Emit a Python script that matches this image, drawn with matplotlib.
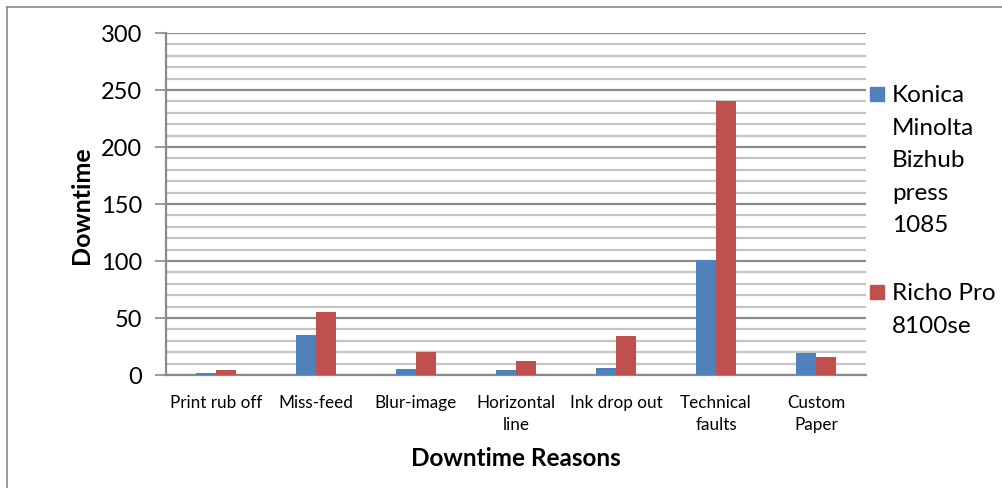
import numpy as np
import matplotlib; matplotlib.use("Agg")
import matplotlib.pyplot as plt
from matplotlib.patches import Rectangle
from matplotlib.lines import Line2D

plt.rcParams["font.family"] = ["Lato", "DejaVu Sans"]

reasons = ["Print rub off", "Miss-feed", "Blur-image", "Horizontal\nline",
           "Ink drop out", "Technical\nfaults", "Custom\nPaper"]
konica = [2, 35, 5, 4, 6, 101, 19]
richo = [4, 55, 20, 12, 34, 240, 16]
series_names = ["Konica\nMinolta\nBizhub\npress\n1085", "Richo Pro\n8100se"]
colors = ["#4F81BD", "#C0504D"]

fig = plt.figure(figsize=(10.03, 4.89), dpi=100)
ax = fig.add_axes([166 / 1003, 1 - 376 / 489, 700 / 1003, 342 / 489])

x = np.arange(len(reasons))
w = 0.2
b1 = ax.bar(x - w / 2, konica, w, color=colors[0], zorder=3)
b2 = ax.bar(x + w / 2, richo, w, color=colors[1], zorder=3)

ax.set_xlim(-0.5, len(reasons) - 0.5)
ax.set_ylim(0, 300)
ax.set_yticks(np.arange(0, 301, 50))
ax.set_yticks(np.arange(0, 301, 10), minor=True)
ax.grid(axis="y", which="minor", color="#c4c4c4", lw=1.6, zorder=0)
ax.grid(axis="y", which="major", color="#8a8a8a", lw=1.6, zorder=1)
ax.set_xticks(x)
ax.set_xticklabels(reasons, fontsize=12.3, linespacing=1.45)
ax.tick_params(axis="x", length=0, pad=14)
ax.tick_params(axis="y", which="major", length=8, color="#8a8a8a", width=1.2,
               labelsize=17, pad=9)
ax.tick_params(axis="y", which="minor", length=0)
for s in ["top", "right"]:
    ax.spines[s].set_visible(False)
for s in ["left", "bottom"]:
    ax.spines[s].set_color("#8a8a8a")
    ax.spines[s].set_linewidth(1.6)

ax.set_ylabel("Downtime", fontsize=18, fontweight="bold", labelpad=6)
ax.set_xlabel("Downtime Reasons", fontsize=17.5, fontweight="bold", labelpad=10)

# legend drawn by hand, square aligned with first text line
for cont, name, y0 in [(b1, series_names[0], 95), (b2, series_names[1], 293)]:
    fig.patches.append(Rectangle((870 / 1003, 1 - (y0 + 7) / 489), 14 / 1003, 14 / 489,
                                 transform=fig.transFigure,
                                 color=cont.patches[0].get_facecolor()))
    fig.text(892 / 1003, 1 - (y0 - 10) / 489, name, fontsize=17.5, va="top",
             ha="left", linespacing=1.68)

# chart-area outline (only top and left edge visible in the crop)
fig.lines.append(Line2D([7 / 1003, 1], [1 - 8 / 489, 1 - 8 / 489],
                        transform=fig.transFigure, color="#8a8a8a", lw=1.2))
fig.lines.append(Line2D([7 / 1003, 7 / 1003], [0, 1 - 8 / 489],
                        transform=fig.transFigure, color="#8a8a8a", lw=1.2))

fig.savefig("out.png", dpi=100)
